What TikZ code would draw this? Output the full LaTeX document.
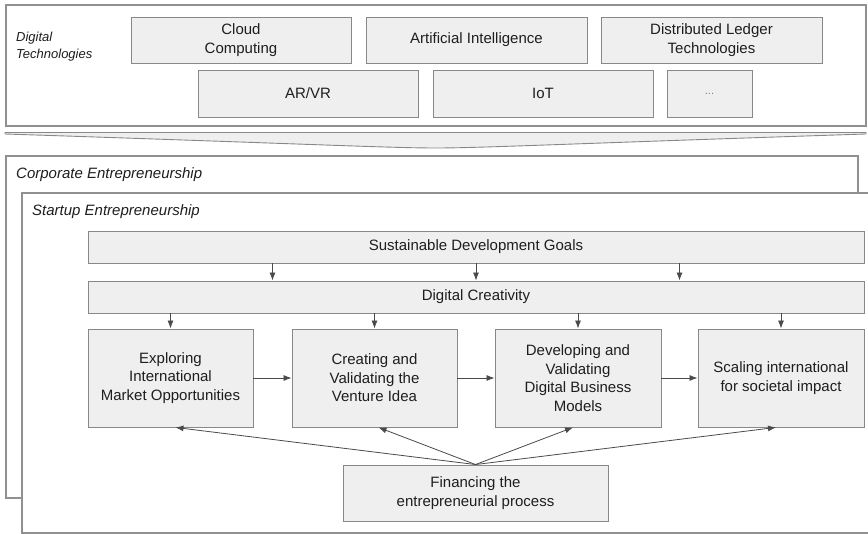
\documentclass[tikz,border=0pt]{standalone}
\usepackage{fontspec}
\setmainfont{Liberation Sans}
\usetikzlibrary{arrows.meta,calc}
\definecolor{boxfill}{HTML}{EFEFEF}
\definecolor{boxline}{HTML}{888888}
\definecolor{frameline}{HTML}{909090}
\definecolor{txt}{HTML}{1E1E1E}
\definecolor{arrcol}{HTML}{4A4A4A}
\begin{document}
\begin{tikzpicture}[x=1pt,y=-1pt,
  font=\fontsize{15}{18.5}\selectfont,
  box/.style={draw=boxline, fill=boxfill, line width=0.9pt, inner sep=0pt, align=center, text=txt},
  frame/.style={draw=frameline, fill=white, line width=1.1pt, inner sep=0pt},
  lbl/.style={text=txt, inner sep=0pt, anchor=west, align=left, font=\fontsize{15}{18}\selectfont\itshape},
  arr/.style={draw=arrcol, line width=0.8pt, -{Latex[length=8pt,width=6pt]}}]
\useasboundingbox (0,0) rectangle (868,534);
% Digital technologies frame
\node[frame, minimum width=860pt, minimum height=121pt] (dt) at (436,65.5) {};
\node[lbl, font=\fontsize{13}{17}\selectfont\itshape] (dtl) at (16,46.5) {Digital\\Technologies};
\node[box, minimum width=220pt, minimum height=46pt] (cloud) at (241,40) {Cloud\\Computing};
\node[box, minimum width=221pt, minimum height=46pt] (ai) at (476.5,40) {Artificial Intelligence};
\node[box, minimum width=221pt, minimum height=46pt] (dlt) at (711.5,40) {Distributed Ledger\\Technologies};
\node[box, minimum width=220pt, minimum height=47pt] (arvr) at (308,93.5) {AR/VR};
\node[box, minimum width=220pt, minimum height=47pt] (iot) at (543,93.5) {IoT};
\node[box, minimum width=85pt, minimum height=47pt, font=\fontsize{11}{13}\selectfont, text=gray] (more) at (709.5,93.5) {...};
% funnel
\draw[draw=boxline, fill=boxfill, line width=0.9pt]
  (5,132.5) -- (866,132.5) -- (866,134)
  .. controls (560,144) and (480,148) .. (436,148)
  .. controls (390,148) and (310,144) .. (5,134) -- cycle;
% Corporate and startup frames
\node[frame, minimum width=852pt, minimum height=342pt] (corp) at (432,327) {};
\node[lbl] (corpl) at (16,175) {Corporate Entrepreneurship};
\node[frame, minimum width=850pt, minimum height=340pt] (start) at (447,363) {};
\node[lbl] (startl) at (32,212) {Startup Entrepreneurship};
% SDG and creativity
\node[box, minimum width=776pt, minimum height=32pt] (sdg) at (476,247) {Sustainable Development Goals};
\node[box, minimum width=776pt, minimum height=32pt] (dc) at (476,297) {Digital Creativity};
% process boxes
\node[box, minimum width=165pt, minimum height=98pt] (b1) at (170.5,378) {Exploring\\International\\Market Opportunities};
\node[box, minimum width=165pt, minimum height=98pt] (b2) at (374.5,378) {Creating and\\Validating the\\Venture Idea};
\node[box, minimum width=166pt, minimum height=98pt] (b3) at (578,378) {Developing and\\Validating\\Digital Business\\Models};
\node[box, minimum width=166pt, minimum height=98pt] (b4) at (781,378) {Scaling international\\for societal impact};
\node[box, minimum width=265pt, minimum height=56pt] (fin) at (475.5,493) {Financing the\\entrepreneurial process};
% helper coordinates
\coordinate (m12) at ($(b1)!0.5!(b2)$);
\coordinate (m34) at ($(b3)!0.5!(b4)$);
% arrows SDG -> DC
\draw[arr] (sdg.south -| m12) -- (dc.north -| m12);
\draw[arr] (sdg.south) -- (dc.north);
\draw[arr] (sdg.south -| m34) -- (dc.north -| m34);
% arrows DC -> process
\foreach \b in {b1,b2,b3,b4} \draw[arr] (dc.south -| \b) -- (\b.north);
% process chain
\draw[arr] (b1.east) -- (b2.west);
\draw[arr] (b2.east) -- (b3.west);
\draw[arr] (b3.east) -- (b4.west);
% financing
\draw[arr] (fin.north) -- ([xshift=5pt]b1.south);
\draw[arr] (fin.north) -- ([xshift=4pt]b2.south);
\draw[arr] (fin.north) -- ([xshift=-5pt]b3.south);
\draw[arr] (fin.north) -- ([xshift=-5pt]b4.south);
\end{tikzpicture}
\end{document}
